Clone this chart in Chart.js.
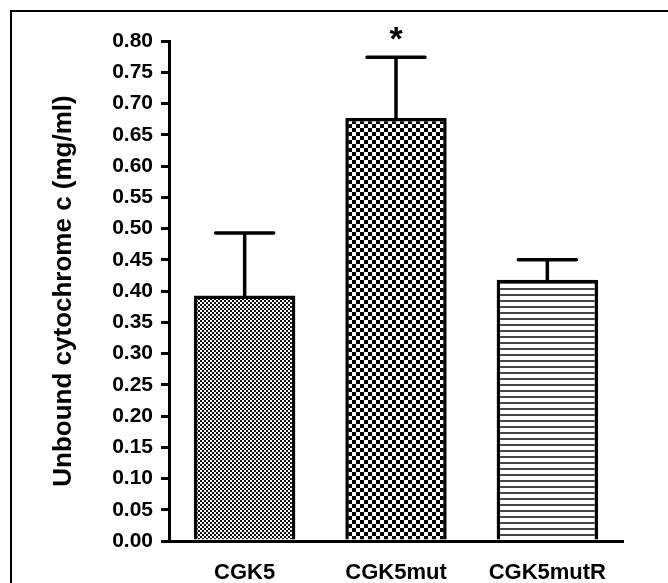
<!DOCTYPE html>
<html>
<head>
<meta charset="utf-8">
<script src="https://cdn.jsdelivr.net/npm/chart.js@4/dist/chart.umd.min.js"></script>
<style>
  html, body { margin: 0; padding: 0; background: #fff; }
  canvas { display: block; }
</style>
</head>
<body>
<canvas id="c" width="668" height="583"></canvas>
<script>
// ---- data ----
const categories = ['CGK5', 'CGK5mut', 'CGK5mutR'];
const means = [0.393, 0.677, 0.418];
const upperErrors = [0.100, 0.097, 0.032];
const markers = ['', '*', ''];
const yTickValues = [0.00, 0.05, 0.10, 0.15, 0.20, 0.25, 0.30, 0.35, 0.40,
                     0.45, 0.50, 0.55, 0.60, 0.65, 0.70, 0.75, 0.80];
const yTitle = 'Unbound cytochrome c (mg/ml)';

const FONT = 'Arial, "Liberation Sans", Helvetica, sans-serif';

function makePattern(w, h, draw) {
  const c = document.createElement('canvas');
  c.width = w; c.height = h;
  const g = c.getContext('2d');
  g.fillStyle = '#fff';
  g.fillRect(0, 0, w, h);
  draw(g);
  return g.createPattern(c, 'repeat');
}
// fine checkerboard
const fineChecker = makePattern(4, 4, g => {
  g.fillStyle = '#111';
  g.fillRect(0, 0, 2, 2);
  g.fillRect(2, 2, 2, 2);
});
// coarse checkerboard
const coarseChecker = makePattern(8, 8, g => {
  g.fillStyle = '#000';
  g.fillRect(0, 0, 4, 4);
  g.fillRect(4, 4, 4, 4);
});
// horizontal stripes
const hStripes = makePattern(6, 6, g => {
  g.fillStyle = '#444';
  g.fillRect(0, 0, 6, 2);
});

const framePlugin = {
  id: 'frame',
  beforeDraw(chart) {
    const ctx = chart.ctx;
    ctx.save();
    ctx.fillStyle = '#fff';
    ctx.fillRect(0, 0, chart.width, chart.height);
    ctx.strokeStyle = '#000';
    ctx.lineWidth = 2;
    ctx.beginPath();
    ctx.moveTo(11, chart.height);
    ctx.lineTo(11, 11);
    ctx.lineTo(chart.width, 11);
    ctx.stroke();
    ctx.restore();
  }
};

const errorBarPlugin = {
  id: 'errorBars',
  afterDatasetsDraw(chart) {
    const ctx = chart.ctx;
    const yScale = chart.scales.y;
    const meta = chart.getDatasetMeta(0);
    ctx.save();
    ctx.strokeStyle = '#000';
    ctx.lineWidth = 3.5;
    ctx.lineCap = 'round';
    meta.data.forEach((bar, i) => {
      const x = bar.x;
      const yBar = yScale.getPixelForValue(means[i]);
      const yTop = yScale.getPixelForValue(means[i] + upperErrors[i]);
      ctx.beginPath();
      ctx.moveTo(x, yBar);
      ctx.lineTo(x, yTop);
      ctx.moveTo(x - 29, yTop);
      ctx.lineTo(x + 29, yTop);
      ctx.stroke();
      if (markers[i]) {
        ctx.fillStyle = '#000';
        ctx.font = 'bold 34px ' + FONT;
        ctx.textAlign = 'center';
        ctx.textBaseline = 'alphabetic';
        ctx.fillText(markers[i], x, yTop - 7);
      }
    });
    ctx.restore();
  }
};

new Chart(document.getElementById('c'), {
  type: 'bar',
  data: {
    labels: categories,
    datasets: [{
      data: means,
      backgroundColor: [fineChecker, coarseChecker, hStripes],
      borderColor: '#000',
      borderWidth: 3.5,
      barPercentage: 0.67,
      categoryPercentage: 1.0
    }]
  },
  options: {
    responsive: false,
    animation: false,
    devicePixelRatio: 1,
    layout: { padding: { left: 12, right: 45, top: 41, bottom: 0 } },
    plugins: { legend: { display: false }, tooltip: { enabled: false } },
    scales: {
      x: {
        offset: true,
        grid: { display: false, drawTicks: false },
        border: { display: true, color: '#000', width: 3 },
        ticks: {
          color: '#000',
          padding: 19,
          font: { family: FONT, size: 22, weight: 'bold' }
        },
        afterFit(s) { s.height = 42; }
      },
      y: {
        min: 0,
        max: 0.8,
        border: { display: true, color: '#000', width: 3 },
        grid: { drawOnChartArea: false, drawTicks: true, tickLength: 8, color: '#000', lineWidth: 3 },
        afterBuildTicks(s) { s.ticks = yTickValues.map(v => ({ value: v })); },
        ticks: {
          color: '#000',
          padding: 8,
          autoSkip: false,
          font: { family: FONT, size: 21, weight: 'bold' },
          callback: v => Number(v).toFixed(2)
        },
        title: {
          display: true,
          text: yTitle,
          color: '#000',
          padding: { top: 36, bottom: 0 },
          font: { family: FONT, size: 26, weight: 'bold' }
        },
        afterFit(s) { s.width = 157; }
      }
    }
  },
  plugins: [framePlugin, errorBarPlugin]
});
</script>
</body>
</html>
